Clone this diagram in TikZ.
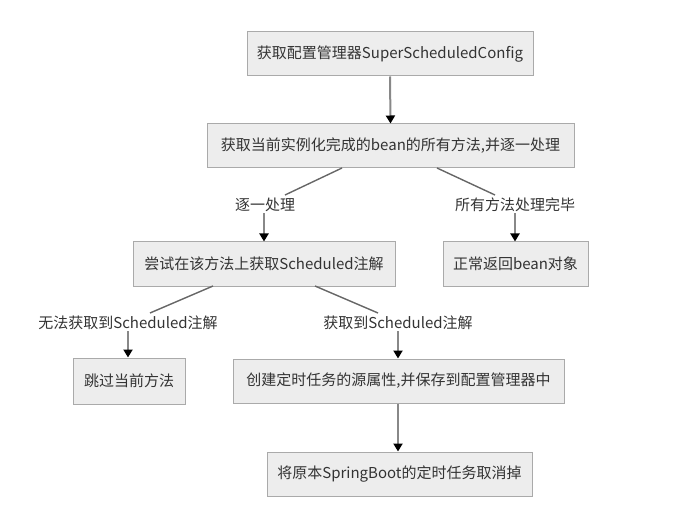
\documentclass[tikz,border=0pt]{standalone}
\usepackage{fontspec}
\setmainfont{Noto Sans CJK SC}
\usetikzlibrary{arrows.meta}
\definecolor{boxfill}{HTML}{EDEDED}
\definecolor{boxdraw}{HTML}{AAAAAA}
\definecolor{txt}{HTML}{333333}
\definecolor{arrowline}{HTML}{888888}
\definecolor{diagline}{HTML}{666666}
\begin{document}
\begin{tikzpicture}[x=1pt,y=1pt,
  every node/.style={font=\fontsize{15}{18}\selectfont, text=txt},
  stepbox/.style={draw=boxdraw, line width=1pt, fill=boxfill, minimum height=44pt, inner sep=0pt, anchor=center},
  lbl/.style={inner sep=1pt, anchor=center},
  arr/.style={draw=arrowline, line width=2pt, -{Triangle[length=8pt,width=9pt,fill=black,color=black]}},
  diag/.style={draw=diagline, line width=1.4pt}
]
\useasboundingbox (0,0) rectangle (698,-521);
\node[stepbox, minimum width=286pt] (b1) at (390,-54) {获取配置管理器SuperScheduledConfig};
\node[stepbox, minimum width=367pt] (b2) at (390.5,-146) {获取当前实例化完成的bean的所有方法,并逐一处理};
\node[stepbox, minimum width=262pt] (b3) at (264,-264) {尝试在该方法上获取Scheduled注解};
\node[stepbox, minimum width=145pt] (b4) at (515.5,-264) {正常返回bean对象};
\node[stepbox, minimum width=112pt, minimum height=46pt] (b5) at (129,-381) {跳过当前方法};
\node[stepbox, minimum width=331pt] (b6) at (398.5,-381) {创建定时任务的源属性,并保存到配置管理器中};
\node[stepbox, minimum width=265pt] (b7) at (399.5,-474) {将原本SpringBoot的定时任务取消掉};

\node[lbl] (l1) at (265,-205) {逐一处理};
\node[lbl] (l2) at (515,-205) {所有方法处理完毕};
\node[lbl] (l3) at (128,-323) {无法获取到Scheduled注解};
\node[lbl] (l4) at (398,-323) {获取到Scheduled注解};

\coordinate (c1a) at (342,-168);
\coordinate (c1b) at (285,-195);
\coordinate (c2a) at (437,-168);
\coordinate (c2b) at (495,-195);
\coordinate (c3a) at (213,-286);
\coordinate (c3b) at (150,-313);
\coordinate (c4a) at (315,-286);
\coordinate (c4b) at (378,-313);

\draw[arr] (b1.south) -- (b2.north);
\draw[diag] (c1a) -- (c1b);
\draw[diag] (c2a) -- (c2b);
\draw[arr] (l1.south -| b3.north) -- (b3.north);
\draw[arr] (l2.south) -- (l2.south |- b4.north);
\draw[diag] (c3a) -- (c3b);
\draw[diag] (c4a) -- (c4b);
\draw[arr] (l3.south) -- (l3.south |- b5.north);
\draw[arr] (l4.south) -- (l4.south |- b6.north);
\draw[arr] (b6.south -| l4.south) -- (l4.south |- b7.north);
\end{tikzpicture}
\end{document}
